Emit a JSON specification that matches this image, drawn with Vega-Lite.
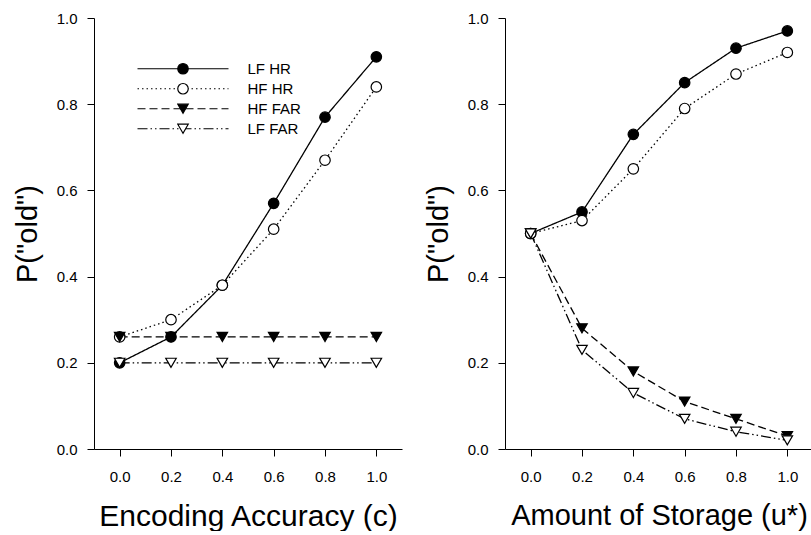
{
  "$schema": "https://vega.github.io/schema/vega-lite/v6.json",
  "background": "white",
  "padding": {"left": 13, "top": 11, "right": 0, "bottom": 0},
  "spacing": 22,
  "config": {
    "font": "Liberation Sans",
    "view": {"stroke": null},
    "axis": {
      "grid": false,
      "domainColor": "black",
      "tickColor": "black",
      "labelColor": "black",
      "titleColor": "black",
      "tickSize": 7,
      "labelFontSize": 15,
      "labelFont": "Liberation Sans",
      "titleFont": "Liberation Sans",
      "titleFontSize": 29,
      "titleFontWeight": "normal",
      "labelPadding": 10
    },
    "axisX": {"titlePadding": 17, "labelPadding": 13},
    "axisY": {"titlePadding": 14}
  },
  "datasets": {
    "left": [
      {"x": 0.0, "y": 0.20, "series": "LF HR"},
      {"x": 0.2, "y": 0.26, "series": "LF HR"},
      {"x": 0.4, "y": 0.38, "series": "LF HR"},
      {"x": 0.6, "y": 0.57, "series": "LF HR"},
      {"x": 0.8, "y": 0.77, "series": "LF HR"},
      {"x": 1.0, "y": 0.91, "series": "LF HR"},
      {"x": 0.0, "y": 0.26, "series": "HF HR"},
      {"x": 0.2, "y": 0.30, "series": "HF HR"},
      {"x": 0.4, "y": 0.38, "series": "HF HR"},
      {"x": 0.6, "y": 0.51, "series": "HF HR"},
      {"x": 0.8, "y": 0.67, "series": "HF HR"},
      {"x": 1.0, "y": 0.84, "series": "HF HR"},
      {"x": 0.0, "y": 0.26, "series": "HF FAR"},
      {"x": 0.2, "y": 0.26, "series": "HF FAR"},
      {"x": 0.4, "y": 0.26, "series": "HF FAR"},
      {"x": 0.6, "y": 0.26, "series": "HF FAR"},
      {"x": 0.8, "y": 0.26, "series": "HF FAR"},
      {"x": 1.0, "y": 0.26, "series": "HF FAR"},
      {"x": 0.0, "y": 0.20, "series": "LF FAR"},
      {"x": 0.2, "y": 0.20, "series": "LF FAR"},
      {"x": 0.4, "y": 0.20, "series": "LF FAR"},
      {"x": 0.6, "y": 0.20, "series": "LF FAR"},
      {"x": 0.8, "y": 0.20, "series": "LF FAR"},
      {"x": 1.0, "y": 0.20, "series": "LF FAR"}
    ],
    "right": [
      {"x": 0.0, "y": 0.50, "series": "LF HR"},
      {"x": 0.2, "y": 0.55, "series": "LF HR"},
      {"x": 0.4, "y": 0.73, "series": "LF HR"},
      {"x": 0.6, "y": 0.85, "series": "LF HR"},
      {"x": 0.8, "y": 0.93, "series": "LF HR"},
      {"x": 1.0, "y": 0.97, "series": "LF HR"},
      {"x": 0.0, "y": 0.50, "series": "HF HR"},
      {"x": 0.2, "y": 0.53, "series": "HF HR"},
      {"x": 0.4, "y": 0.65, "series": "HF HR"},
      {"x": 0.6, "y": 0.79, "series": "HF HR"},
      {"x": 0.8, "y": 0.87, "series": "HF HR"},
      {"x": 1.0, "y": 0.92, "series": "HF HR"},
      {"x": 0.0, "y": 0.50, "series": "HF FAR"},
      {"x": 0.2, "y": 0.28, "series": "HF FAR"},
      {"x": 0.4, "y": 0.18, "series": "HF FAR"},
      {"x": 0.6, "y": 0.11, "series": "HF FAR"},
      {"x": 0.8, "y": 0.07, "series": "HF FAR"},
      {"x": 1.0, "y": 0.03, "series": "HF FAR"},
      {"x": 0.0, "y": 0.50, "series": "LF FAR"},
      {"x": 0.2, "y": 0.23, "series": "LF FAR"},
      {"x": 0.4, "y": 0.13, "series": "LF FAR"},
      {"x": 0.6, "y": 0.07, "series": "LF FAR"},
      {"x": 0.8, "y": 0.04, "series": "LF FAR"},
      {"x": 1.0, "y": 0.02, "series": "LF FAR"}
    ]
  },
  "resolve": {"scale": {"strokeDash": "independent", "shape": "independent", "fill": "independent"}},
  "hconcat": [
    {
      "width": 308,
      "height": 431,
      "data": {"name": "left"},
      "encoding": {
        "x": {"field": "x", "type": "quantitative",
              "scale": {"domain": [-0.1, 1.1], "nice": false, "zero": false},
              "axis": {"values": [0, 0.2, 0.4, 0.6, 0.8, 1.0], "format": ".1f", "title": "Encoding Accuracy (c)", "titleFontSize": 30}},
        "y": {"field": "y", "type": "quantitative",
              "scale": {"domain": [0, 1], "nice": false},
              "axis": {"values": [0, 0.2, 0.4, 0.6, 0.8, 1.0], "format": ".1f", "title": "P(\"old\")"}}
      },
      "layer": [
        {
          "mark": {"type": "point", "filled": true, "stroke": "black", "strokeWidth": 1.2, "size": 110, "opacity": 0},
          "encoding": {
            "shape": {"field": "series", "type": "nominal",
              "scale": {"domain": ["LF HR", "HF HR", "HF FAR", "LF FAR"], "range": ["circle", "circle", "triangle-down", "triangle-down"]},
              "legend": {"orient": "none", "legendX": 83, "legendY": 41, "title": null, "padding": 0,
                "symbolStrokeColor": "black", "symbolStrokeWidth": 1.2, "symbolSize": 110, "symbolOpacity": 1,
                "clipHeight": 19.5, "rowPadding": 0, "labelFontSize": 10, "labelOpacity": 0, "zindex": 1,
                "encode": {"symbols": {"update": {"stroke": {"value": "black"}, "strokeWidth": {"value": 1.2}, "opacity": {"value": 1}}}}}},
            "fill": {"field": "series", "type": "nominal",
              "scale": {"domain": ["LF HR", "HF HR", "HF FAR", "LF FAR"], "range": ["black", "white", "black", "white"]},
              "legend": {"orient": "none", "legendX": 83, "legendY": 41, "title": null, "padding": 0,
                "symbolStrokeColor": "black", "symbolStrokeWidth": 1.2, "symbolSize": 110, "symbolOpacity": 1,
                "clipHeight": 19.5, "rowPadding": 0, "labelFontSize": 10, "labelOpacity": 0, "zindex": 1,
                "encode": {"symbols": {"update": {"stroke": {"value": "black"}, "strokeWidth": {"value": 1.2}, "opacity": {"value": 1}}}}}}
          }
        },
        {
          "mark": {"type": "line", "color": "black", "strokeWidth": 1.3},
          "encoding": {
            "strokeDash": {"field": "series", "type": "nominal",
              "scale": {"domain": ["LF HR", "HF HR", "HF FAR", "LF FAR"], "range": [[1, 0], [1.5, 3], [8, 4], [10, 3, 1.5, 3, 1.5, 3]]},
              "legend": {"orient": "top-left", "offset": 41, "title": null, "padding": 0,
                "symbolType": "stroke", "symbolSize": 8281, "symbolStrokeColor": "black", "symbolStrokeWidth": 1.2,
                "symbolOffset": 1.5, "clipHeight": 19.5, "rowPadding": 0,
                "labelFontSize": 15, "labelOffset": 18, "labelColor": "black", "labelFont": "Liberation Sans", "zindex": 0}}
          }
        },
        {
          "mark": {"type": "point", "filled": true, "stroke": "black", "strokeWidth": 1.2, "size": 110, "opacity": 1},
          "encoding": {
            "shape": {"field": "series", "type": "nominal", "legend": null},
            "fill": {"field": "series", "type": "nominal", "legend": null}
          }
        }
      ]
    },
    {
      "width": 308,
      "height": 431,
      "data": {"name": "right"},
      "encoding": {
        "x": {"field": "x", "type": "quantitative",
              "scale": {"domain": [-0.1, 1.1], "nice": false, "zero": false},
              "axis": {"values": [0, 0.2, 0.4, 0.6, 0.8, 1.0], "format": ".1f", "title": "Amount of Storage (u*)", "titleFontSize": 29}},
        "y": {"field": "y", "type": "quantitative",
              "scale": {"domain": [0, 1], "nice": false},
              "axis": {"values": [0, 0.2, 0.4, 0.6, 0.8, 1.0], "format": ".1f", "title": "P(\"old\")"}}
      },
      "layer": [
        {
          "mark": {"type": "line", "color": "black", "strokeWidth": 1.3},
          "encoding": {
            "strokeDash": {"field": "series", "type": "nominal",
              "scale": {"domain": ["LF HR", "HF HR", "HF FAR", "LF FAR"], "range": [[1, 0], [1.5, 3], [8, 4], [10, 3, 1.5, 3, 1.5, 3]]},
              "legend": null}
          }
        },
        {
          "mark": {"type": "point", "filled": true, "stroke": "black", "strokeWidth": 1.2, "size": 110, "opacity": 1},
          "encoding": {
            "shape": {"field": "series", "type": "nominal",
              "scale": {"domain": ["LF HR", "HF HR", "HF FAR", "LF FAR"], "range": ["circle", "circle", "triangle-down", "triangle-down"]},
              "legend": null},
            "fill": {"field": "series", "type": "nominal",
              "scale": {"domain": ["LF HR", "HF HR", "HF FAR", "LF FAR"], "range": ["black", "white", "black", "white"]},
              "legend": null}
          }
        }
      ]
    }
  ]
}
